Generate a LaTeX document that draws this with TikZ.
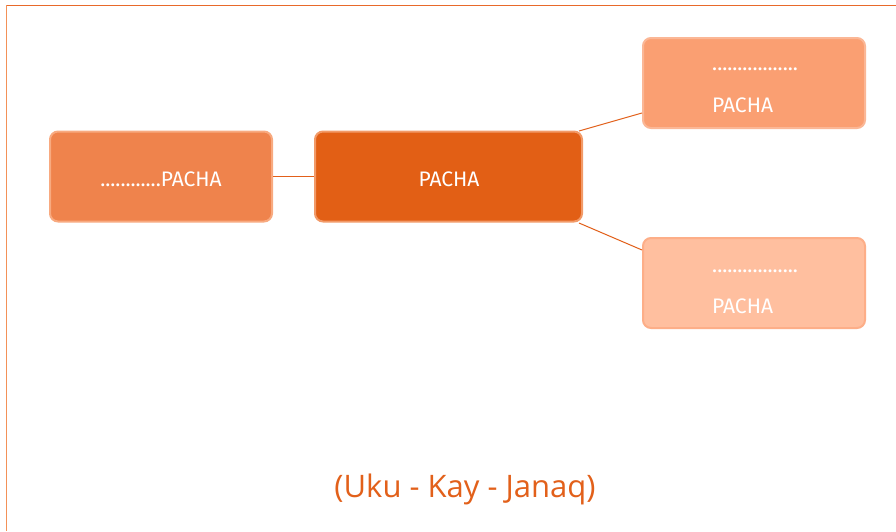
\documentclass[tikz,border=0pt]{standalone}
\usepackage{fontspec}
\setmainfont{Fira Sans}
\newfontfamily\captionfont{Open Sans}
\begin{document}
\begin{tikzpicture}[x=1pt,y=-1pt,
  box/.style={rounded corners=8pt, line width=2pt, minimum width=222pt, minimum height=90pt, text=white, font=\boxfont, align=center, inner sep=0pt},
  label/.style={text=white, font=\boxfont, inner sep=0pt, anchor=base west},
  link/.style={draw=orangeline, line width=1pt}]
\newcommand\boxfont{\fontsize{21}{24}\selectfont}
\definecolor{orangeline}{HTML}{E2601A}
\definecolor{leftfill}{HTML}{EF834C}
\definecolor{leftedge}{HTML}{F8AA80}
\definecolor{midfill}{HTML}{E25F15}
\definecolor{midedge}{HTML}{F29A68}
\definecolor{topfill}{HTML}{FA9F72}
\definecolor{topedge}{HTML}{FBB796}
\definecolor{botfill}{HTML}{FFBF9F}
\definecolor{botedge}{HTML}{FDAE88}
\definecolor{frametop}{HTML}{E8692A}
\definecolor{frameleft}{HTML}{F39158}
\useasboundingbox (0,0) rectangle (896,531);
\fill[white] (0,0) rectangle (896,531);
% frame
\draw[frametop, line width=1.6pt] (6,5.5) -- (896,5.5);
\draw[frameleft, line width=1.8pt] (6.5,5) -- (6.5,531);
% boxes
\node[box, fill=leftfill, draw=leftedge, minimum width=222pt] (left) at (161,176.5) {};
\node[box, fill=midfill, draw=midedge, minimum width=267pt] (mid) at (448.5,176.5) {};
\node[box, fill=topfill, draw=topedge] (tr) at (754,83) {};
\node[box, fill=botfill, draw=botedge] (br) at (754,283) {};
% texts
\node[label, anchor=base] (lefttext) at (161,186) {............PACHA};
\node[label, anchor=base] (midtext) at (449,186) {PACHA};
\node[label] (trdots) at (712,70) {.................};
\node[label] (trtext) at (712,112) {PACHA};
\node[label] (brdots) at (712,272) {.................};
\node[label] (brtext) at (712,313) {PACHA};
% connectors
\coordinate (midtr) at (579,131);
\coordinate (midbr) at (579,223);
\coordinate (trin) at (642,113);
\coordinate (brin) at (642,250);
\draw[link] (left.east) -- (mid.west);
\draw[link] (midtr) -- (trin);
\draw[link] (midbr) -- (brin);
% caption
\node[text=orangeline, font=\captionfont\fontsize{31}{36}\selectfont] (caption) at (465,489) {(Uku - Kay - Janaq)};
\end{tikzpicture}
\end{document}
